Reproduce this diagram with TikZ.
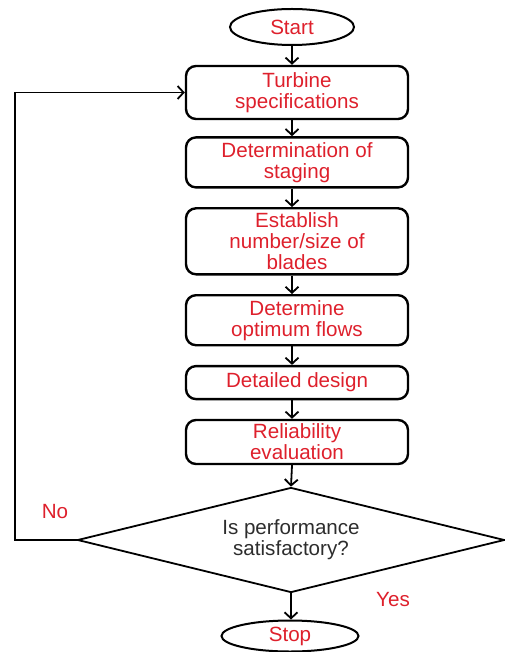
\documentclass[tikz,border=0pt]{standalone}
\usepackage{fontspec}
\setmainfont{Liberation Sans}
\usetikzlibrary{shapes.geometric,positioning,arrows.meta}
\definecolor{steptext}{RGB}{222,32,44}
\definecolor{asktext}{RGB}{45,45,45}
\begin{document}
\begin{tikzpicture}[x=1pt,y=-1pt,>={Straight Barb[length=6pt,width=13pt]},
  font=\fontsize{20.6}{21}\selectfont,
  proc/.style={draw,line width=2.4pt,rounded corners=10pt,minimum width=222pt,align=center,text=steptext,inner sep=0pt},
  term/.style={draw,ellipse,line width=2pt,text=steptext,inner sep=0pt},
  line/.style={line width=1.8pt}]
  \useasboundingbox (0,0) rectangle (504,652);
  \node[term,minimum width=124pt,minimum height=36pt](start) at (292,27){Start};
  \node[proc,minimum height=53pt](t1) at (297,92.5){Turbine\\specifications};
  \node[proc,minimum height=50pt,below=16pt of t1](t2){Determination of\\staging};
  \node[proc,minimum height=66pt,below=18.5pt of t2](t3){Establish\\number/size of\\blades};
  \node[proc,minimum height=50pt,below=18.5pt of t3](t4){Determine\\optimum flows};
  \node[proc,minimum height=33pt,below=18.5pt of t4](t5){Detailed design};
  \node[proc,minimum height=44pt,below=18.5pt of t5](t6){Reliability\\evaluation};
  \node[draw,diamond,aspect=4.07,line width=1.8pt,minimum width=427pt,minimum height=105pt,inner sep=0pt,
    align=center,text=asktext](dia) at (291,540){Is performance\\satisfactory?};
  \node[term,minimum width=137pt,minimum height=31pt](stop) at (290,636){Stop};
  \node[text=steptext](no) at (55,512){No};
  \node[text=steptext](yes) at (393,600){Yes};
  \draw[line,->](start.south)--(start.south |- t1.north);
  \foreach \a/\b in {t1/t2,t2/t3,t3/t4,t4/t5,t5/t6}
    \draw[line,->](\a.south -| start)--(\b.north -| start);
  \draw[line,->](t6.south -| start)--(dia.north);
  \draw[line,->](dia.south)--(stop.north -| dia.south);
  \coordinate(fb) at (15,540);
  \draw[line,->](dia.west)--(fb)|-(t1.west);
\end{tikzpicture}
\end{document}
